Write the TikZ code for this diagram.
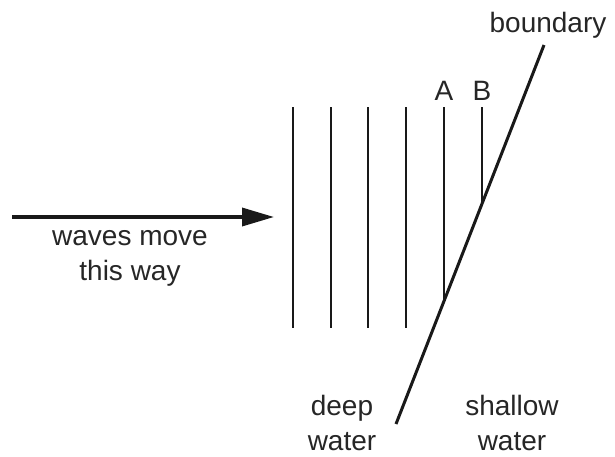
\documentclass[tikz,border=0pt]{standalone}
\usepackage{fontspec}
\setmainfont{Liberation Sans}
\usetikzlibrary{arrows.meta}
\begin{document}
\begin{tikzpicture}[x=1pt,y=-1pt,
  lbl/.style={font=\fontsize{28}{35}\selectfont, inner sep=0pt, anchor=base, align=center, text=black!85},
  wave/.style={line width=1.8pt, black!90},
  bnd/.style={line width=3pt, black!90},
  mover/.style={line width=3.5pt, black!90, -{Triangle[length=32pt,width=18pt]}}]
\useasboundingbox (0,0) rectangle (615,456);
% boundary
\coordinate (b0) at (396,424);
\coordinate (b1) at (544,45);
\draw[bnd] (b0) -- (b1);
% wavefronts
\foreach \i/\x in {1/293,2/331,3/368,4/406}{
  \coordinate (t\i) at (\x,107);
  \coordinate (u\i) at (\x,328);
  \draw[wave] (t\i) -- (u\i);
}
\coordinate (tA) at (444,107);
\coordinate (uA) at (444,301);
\coordinate (tB) at (482,107);
\coordinate (uB) at (482,204);
\draw[wave] (tA) -- (uA);
\draw[wave] (tB) -- (uB);
% arrow
\coordinate (a0) at (12,217);
\coordinate (a1) at (274,217);
\draw[mover] (a0) -- (a1);
% labels
\node[lbl] (lA) at (444,100) {A};
\node[lbl] (lB) at (482,100) {B};
\node[lbl] (lbound) at (548,32) {boundary};
\node[lbl] (lwaves) at (130,280) {waves move\\this way};
\node[lbl] (ldeep) at (342,450) {deep\\water};
\node[lbl] (lshallow) at (512,450) {shallow\\water};
\end{tikzpicture}
\end{document}
